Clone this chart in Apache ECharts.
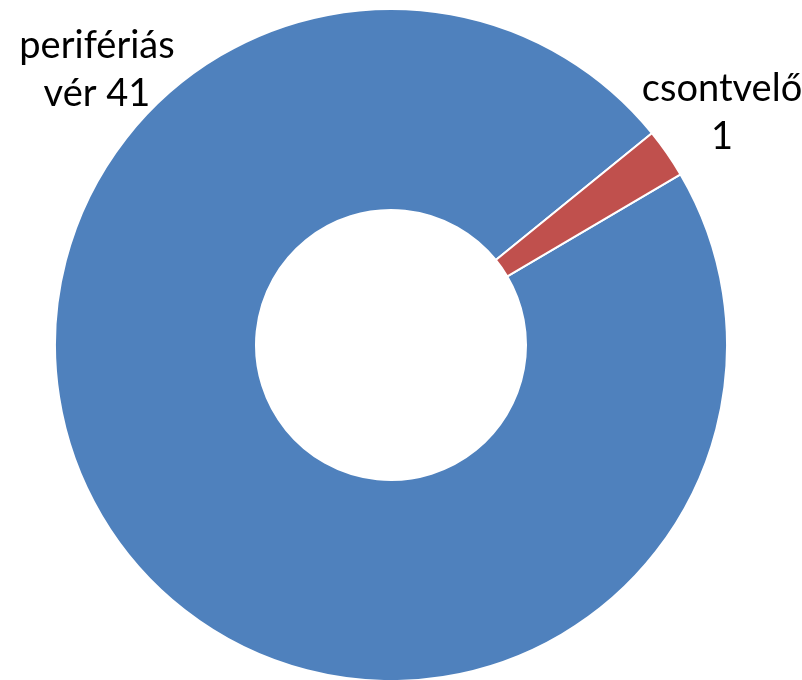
<!DOCTYPE html>
<html>
<head>
<meta charset="utf-8">
<script src="https://cdn.jsdelivr.net/npm/echarts@6/dist/echarts.min.js"></script>
<style>
html,body{margin:0;padding:0;background:#fff;}
#main{width:802px;height:680px;}
</style>
</head>
<body>
<div id="main"></div>
<script>
const categories = ['perifériás vér', 'csontvelő'];
const values = [41, 1];
const colors = ['#4F81BD', '#C0504D'];
const labelAnchors = [[97, 70], [722, 113]];

function fmt(p) {
  const words = p.name.split(' ');
  if (words.length > 1) {
    return words.slice(0, -1).join(' ') + '\n' + words[words.length - 1] + ' ' + p.value;
  }
  return p.name + '\n' + p.value;
}

const chart = echarts.init(document.getElementById('main'), null, {renderer: 'canvas'});
chart.setOption({
  animation: false,
  series: [{
    type: 'pie',
    center: [391, 345],
    radius: [135, 336],
    startAngle: 30.5,
    clockwise: true,
    avoidLabelOverlap: false,
    data: categories.map((c, i) => ({name: c, value: values[i], itemStyle: {color: colors[i]}})),
    itemStyle: {borderColor: '#ffffff', borderWidth: 2},
    label: {
      show: true,
      position: 'outside',
      formatter: fmt,
      color: '#000000',
      fontFamily: 'Lato',
      fontSize: 38,
      lineHeight: 48,
      align: 'center'
    },
    labelLine: {show: false},
    labelLayout: function (params) {
      const a = labelAnchors[params.dataIndex];
      return {x: a[0], y: a[1], align: 'center', verticalAlign: 'middle'};
    }
  }]
});
</script>
</body>
</html>
